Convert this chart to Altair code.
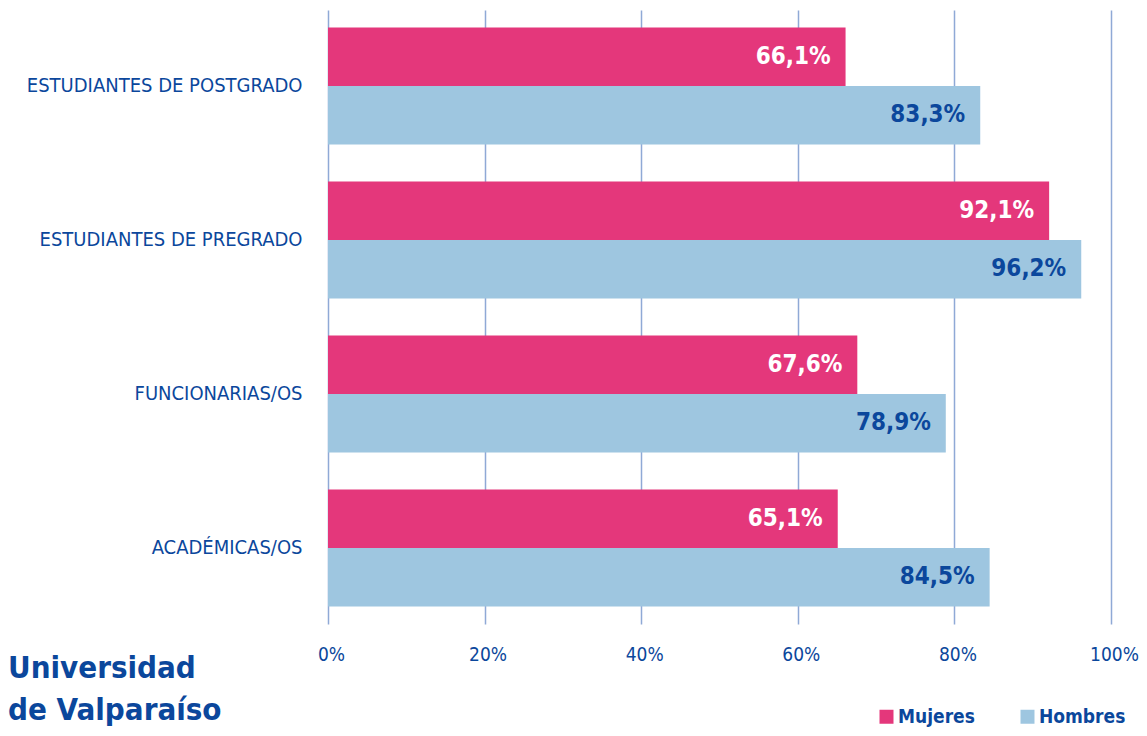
import altair as alt
import pandas as pd

categories = ["ESTUDIANTES DE POSTGRADO", "ESTUDIANTES DE PREGRADO", "FUNCIONARIAS/OS", "ACADÉMICAS/OS"]
series = ["Mujeres", "Hombres"]
mujeres = [66.1, 92.1, 67.6, 65.1]
hombres = [83.3, 96.2, 78.9, 84.5]
x_ticks = [0, 20, 40, 60, 80, 100]

PINK = "#e4377b"
LIGHT = "#9ec6e0"
DARK = "#0b479c"
GRID = "#8fa9d6"
FONT = "DejaVu Sans Condensed, Liberation Sans Narrow, sans-serif"

rows = []
for c, m, h in zip(categories, mujeres, hombres):
    rows.append({"cat": c, "serie": "Mujeres", "v": m, "txt": f"{m:.1f}".replace(".", ",") + "%", "tc": "white"})
    rows.append({"cat": c, "serie": "Hombres", "v": h, "txt": f"{h:.1f}".replace(".", ",") + "%", "tc": DARK})
df = pd.DataFrame(rows)

y_enc = alt.Y("cat:N", sort=categories, title=None,
              scale=alt.Scale(paddingInner=0.24, paddingOuter=0.113),
              axis=alt.Axis(domain=False, ticks=False, grid=False, labelFont=FONT, labelFontSize=20,
                            labelColor=DARK, labelPadding=26, labelLimit=400,
                            minExtent=300, maxExtent=300))
yoff = alt.YOffset("serie:N", sort=series, scale=alt.Scale(paddingInner=0, paddingOuter=0))

bars = alt.Chart(df).mark_bar().encode(
    x=alt.X("v:Q", title=None, scale=alt.Scale(domain=[0, 100], nice=False),
            axis=alt.Axis(values=x_ticks, labelExpr="datum.value + '%'", domain=False, ticks=False,
                          grid=True, gridColor=GRID, gridWidth=1.5, labelFont=FONT,
                          labelFontSize=19, labelColor=DARK, labelPadding=21, labelOffset=3,
                          labelFlush=False)),
    y=y_enc,
    yOffset=yoff,
    color=alt.Color("serie:N", sort=series, title=None,
                    scale=alt.Scale(domain=series, range=[PINK, LIGHT]),
                    legend=alt.Legend(orient="none", legendX=549, legendY=697, direction="horizontal",
                                      symbolType="square", symbolSize=196, symbolStrokeWidth=0,
                                      labelFont=FONT, labelFontSize=19, labelFontWeight="bold",
                                      labelColor=DARK, labelOffset=2, columnPadding=43)),
)

labels = alt.Chart(df).mark_text(align="right", baseline="middle", dx=-15, font=FONT,
                                 fontSize=24, fontWeight="bold").encode(
    x="v:Q",
    y=alt.Y("cat:N", sort=categories),
    yOffset=yoff,
    text="txt:N",
    color=alt.Color("tc:N", scale=None, legend=None),
)

logo_df = pd.DataFrame({"t": ["Universidad", "de Valparaíso"], "yy": [668, 710]})
logo = alt.Chart(logo_df).mark_text(align="left", baseline="alphabetic", font=FONT, fontSize=31,
                                     fontWeight="bold", color=DARK).encode(
    x=alt.value(-320), y=alt.Y("yy:Q", scale=None), text="t:N")

chart = alt.layer(bars, labels, logo).resolve_scale(color="independent").properties(
    width=783, height=614,
    background="white",
    autosize=alt.AutoSizeParams(type="none"),
    padding={"left": 320, "top": 2, "right": 28, "bottom": 104},
).configure_view(strokeWidth=0, stroke="transparent")

chart.save("out.html", embed_options={"renderer": "svg", "actions": False})
